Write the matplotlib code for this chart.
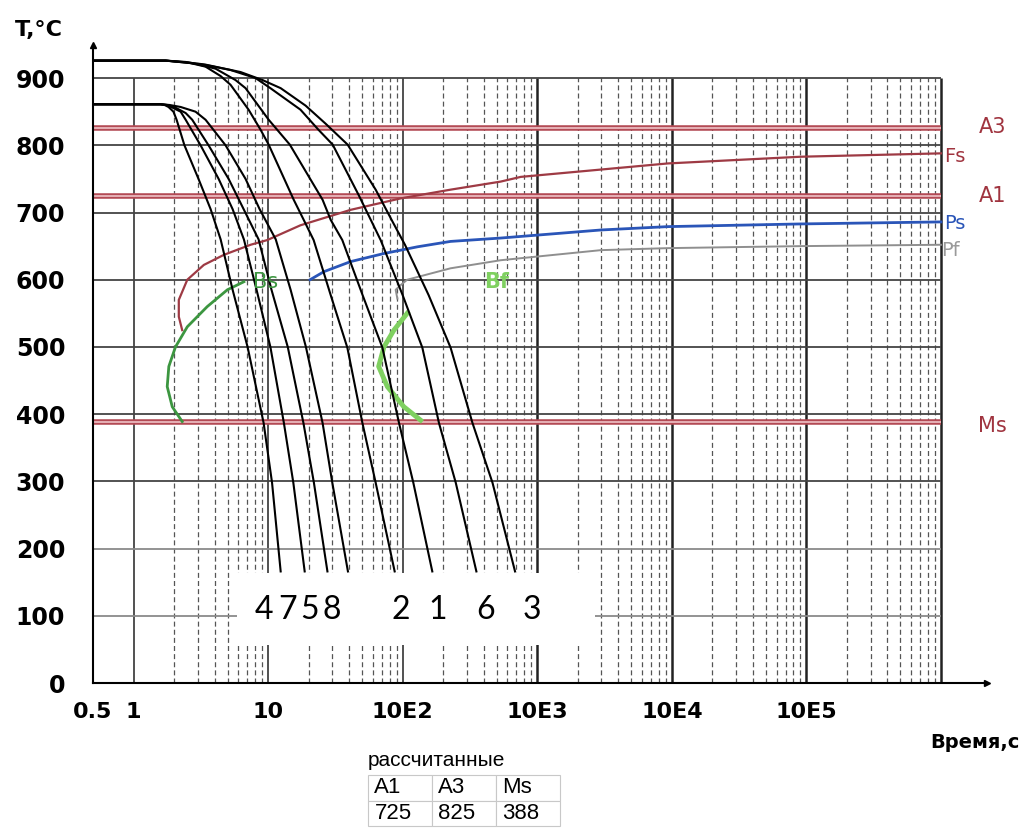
import matplotlib
matplotlib.use('Agg')
import matplotlib.pyplot as plt
from matplotlib.patches import Rectangle
from matplotlib.ticker import NullLocator

# critical points, deg C
A1 = 725
A3 = 825
Ms = 388

# cooling curves (time, s / temperature, deg C)
curve4_t = [0.5, 1.59, 1.70, 1.82, 1.98, 2.09, 2.39, 3.04, 3.74, 4.44, 5.45, 7.04, 9.26, 10.7, 12.4]
curve4_T = [861, 861, 860, 857, 850, 838, 800, 750, 705, 660, 585, 500, 387, 298, 166]
curve7_t = [0.5, 1.59, 1.75, 1.95, 2.24, 2.44, 3.15, 4.29, 5.45, 6.61, 8.21, 10.4, 13.1, 15.4, 18.7]
curve7_T = [861, 861, 860, 856, 850, 838, 800, 750, 705, 660, 585, 500, 387, 298, 166]
curve5_t = [0.5, 1.59, 1.78, 2.05, 2.44, 2.73, 3.61, 5.09, 6.58, 8.50, 10.6, 14.0, 18.3, 21.9, 27.6]
curve5_T = [861, 861, 860, 856, 848, 838, 800, 750, 705, 660, 585, 500, 387, 298, 166]
curve8_t = [0.5, 1.59, 1.85, 2.24, 2.89, 3.43, 4.83, 6.80, 8.65, 11.4, 14.7, 19.1, 25.4, 30.0, 39.2]
curve8_T = [861, 861, 860, 857, 850, 838, 800, 750, 705, 660, 585, 500, 387, 298, 166]

curve2_t = [0.5, 1.73, 2.44, 3.43, 4.44, 5.26, 7.16, 8.80, 10.1, 15.5, 18.4, 21.8, 29.2, 38.8, 50.2, 63.0, 87.2]
curve2_T = [926, 926, 924, 917, 903, 890, 853, 823, 801, 719, 689, 659, 577, 499, 387, 298, 166]
curve1_t = [0.5, 1.73, 2.65, 4.07, 5.73, 6.80, 10.1, 14.5, 25.4, 29.2, 35.6, 50.4, 70.7, 93.9, 120, 166]
curve1_T = [926, 926, 923, 914, 897, 885, 838, 801, 719, 689, 659, 577, 499, 387, 298, 166]
curve6_t = [0.5, 1.73, 3.15, 5.26, 8.07, 10.4, 17.4, 23.7, 30.2, 47.1, 68.6, 100, 140, 186, 248, 353]
curve6_T = [926, 926, 921, 912, 900, 885, 853, 823, 801, 726, 659, 577, 499, 387, 298, 166]
curve3_t = [0.5, 1.73, 3.43, 6.24, 9.10, 12.4, 19.0, 26.8, 39.0, 63.0, 84.3, 104, 156, 227, 330, 465, 684]
curve3_T = [926, 926, 920, 909, 897, 885, 859, 832, 801, 734, 686, 652, 577, 499, 387, 298, 166]

curve_names = ['4', '7', '5', '8', '2', '1', '6', '3']
label_t = [9.26, 14.0, 20.4, 29.6, 96.6, 181, 413, 908]
label_T = 108

# transformation start lines
Fs_t = [2.30, 2.17, 2.17, 2.51, 3.33, 4.69, 7.41, 9.86, 17.4, 41.1, 96.6, 227, 535, 754, 9340, 91000, 1e6]
Fs_T = [525, 545, 570, 600, 622, 637, 652, 659, 681, 704, 721, 734, 746, 753, 773, 783, 788]
Ps_t = [20.5, 26.0, 41.1, 72.6, 129, 227, 535, 2970, 9340, 91000, 1e6]
Ps_T = [600, 612, 627, 639, 649, 657, 662, 674, 679, 683, 686]
Pf_t = [91.3, 88.7, 96.6, 108, 227, 535, 2970, 9340, 91000, 1e6]
Pf_T = [572, 585, 592, 600, 617, 629, 644, 647, 650, 652]
Bs_t = [6.61, 4.98, 3.53, 2.51, 2.05, 1.83, 1.78, 1.94, 2.30]
Bs_T = [597, 585, 560, 530, 500, 471, 441, 411, 389]
Bf_t = [108, 86.1, 72.6, 66.3, 76.9, 102, 136]
Bf_T = [550, 525, 500, 471, 441, 411, 391]

x_ticks = [0.5, 1, 10, 100, 1000, 1e4, 1e5]
x_labels = ['0.5', '1', '10', '10E2', '10E3', '10E4', '10E5']
y_ticks = list(range(0, 1000, 100))

table_head = ['A1', 'A3', 'Ms']
table_vals = [str(A1), str(A3), str(Ms)]

plt.rcParams['font.family'] = ['DejaVu Sans']
fig = plt.figure(figsize=(10.3, 8.36), dpi=100)
ax = fig.add_axes([0.0903, 0.183, 0.868, 0.763])
ax.set_xscale('log')
ax.set_xlim(0.5, 2.2e6)
ax.set_ylim(0, 949)

# grid, drawn by hand so it stops at 900 deg / 1e6 s
majors = [1, 10, 100, 1e3, 1e4, 1e5, 1e6]
minors = [m * 10 ** k for k in range(0, 6) for m in range(2, 10)]
for v in minors:
    ax.vlines(v, 0, 900, color='#555555', lw=0.9, linestyles=(0, (4, 2.5)), zorder=1)
for v in majors:
    lw = 1.1 if v <= 100 else 1.8
    ax.vlines(v, 0, 900, color='#222222', lw=lw, zorder=1)
for v in y_ticks[1:]:
    c = '#8a8a8a' if v <= 200 else '#444444'
    ax.hlines(v, 0.5, 1e6, color=c, lw=1.3, zorder=1)

# critical temperature lines
for v in [A3, A1, Ms]:
    ax.hlines(v, 0.5, 1e6, color='#b34a55', lw=4.0, zorder=2)
    ax.hlines(v, 0.5, 1e6, color='#efc3c6', lw=1.2, zorder=2)

ax.plot(Fs_t, Fs_T, color='#9e3a44', lw=1.6, zorder=3)
ax.plot(Ps_t, Ps_T, color='#2a55b8', lw=2.0, zorder=3)
ax.plot(Pf_t, Pf_T, color='#8f8f8f', lw=1.4, zorder=3)
ax.plot(Bs_t, Bs_T, color='#3c9640', lw=2.0, zorder=3)
ax.plot(Bf_t, Bf_T, color='#7fd060', lw=3.5, zorder=3)

curves = [(curve4_t, curve4_T), (curve7_t, curve7_T), (curve5_t, curve5_T), (curve8_t, curve8_T),
          (curve2_t, curve2_T), (curve1_t, curve1_T), (curve6_t, curve6_T), (curve3_t, curve3_T)]
for t, T in curves:
    ax.plot(t, T, color='black', lw=1.5, zorder=4)

# labels at right end
ax.text(1.05e6, Fs_T[-1] - 4, 'Fs', color='#a0343f', fontsize=14, va='center', ha='left', zorder=6)
ax.text(1.05e6, Ps_T[-1] - 3, 'Ps', color='#2a55b8', fontsize=14, va='center', ha='left', zorder=6)
ax.text(1.0e6, Pf_T[-1] - 8, 'Pf', color='#9a9a9a', fontsize=14, va='center', ha='left', zorder=6)
ax.text(1.9e6, A3 + 2, 'A3', color='#a0343f', fontsize=15, va='center', ha='left', clip_on=False)
ax.text(1.9e6, A1 - 1, 'A1', color='#a0343f', fontsize=15, va='center', ha='left', clip_on=False)
ax.text(1.9e6, Ms - 6, 'Ms', color='#a0343f', fontsize=15, va='center', ha='left', clip_on=False)
ax.text(9.6, 597, 'Bs', color='#3c9640', fontsize=15, va='center', ha='center', zorder=5)
ax.text(500, 597, 'Bf', color='#7fd060', fontsize=15, va='center', ha='center', zorder=5, fontweight='bold')

# white box with the curve numbers
ax.add_patch(Rectangle((0.161, 0.0596), 0.4, 0.113, transform=ax.transAxes,
                       facecolor='white', edgecolor='none', zorder=5))
for name, t in zip(curve_names, label_t):
    ax.text(t, label_T, name, fontsize=23, family='Lato', ha='center', va='center', zorder=6)

# axes look
for s in ['top', 'right']:
    ax.spines[s].set_visible(False)
ax.spines['left'].set_linewidth(1.5)
ax.spines['bottom'].set_linewidth(1.5)
ax.plot(0, 1, '^', color='black', ms=4, transform=ax.transAxes, clip_on=False)
ax.plot(1, 0, '>', color='black', ms=4, transform=ax.transAxes, clip_on=False)

ax.set_xticks(x_ticks)
ax.set_xticklabels(x_labels, fontweight='bold')
ax.xaxis.set_minor_locator(NullLocator())
ax.set_yticks(y_ticks)
ax.set_yticklabels([str(v) for v in y_ticks], fontweight='bold')
ax.tick_params(axis='x', length=0, pad=14, labelsize=16)
ax.tick_params(axis='y', length=0, pad=20, labelsize=17)

fig.text(15 / 1030, 1 - 30 / 836, 'T,°C', fontsize=16, fontweight='bold', va='center', ha='left')
fig.text(1020 / 1030, 1 - 743 / 836, 'Время,с', fontsize=14, fontweight='bold', va='center', ha='right')
fig.text(368 / 1030, 1 - 760 / 836, 'рассчитанные', fontsize=15, va='center', ha='left',
         family='Liberation Sans')

tax = fig.add_axes([368 / 1030, 10 / 836, 192 / 1030, 51 / 836])
tax.axis('off')
tbl = tax.table(cellText=[table_head, table_vals], cellLoc='left', bbox=[0, 0, 1, 1])
tbl.auto_set_font_size(False)
for cell in tbl.get_celld().values():
    cell.set_edgecolor('#c8c8c8')
    cell.set_linewidth(0.8)
    cell.get_text().set_fontsize(16)
    cell.get_text().set_fontfamily('Liberation Sans')

fig.savefig('out.png', dpi=100)
